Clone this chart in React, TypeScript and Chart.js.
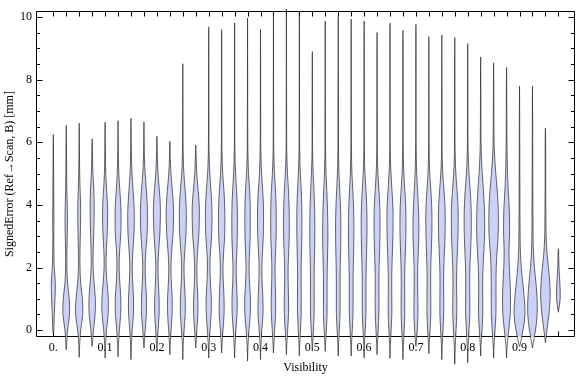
import React, { useEffect, useRef } from "react";
import { Chart, registerables } from "chart.js";

Chart.register(...registerables);

// Violin categories (Visibility)
const visibility = [
  0, 0.025, 0.05, 0.075, 0.1, 0.125, 0.15, 0.175, 0.2, 0.225,
  0.25, 0.275, 0.3, 0.325, 0.35, 0.375, 0.4, 0.425, 0.45, 0.475,
  0.5, 0.525, 0.55, 0.575, 0.6, 0.625, 0.65, 0.675, 0.7, 0.725,
  0.75, 0.775, 0.8, 0.825, 0.85, 0.875, 0.9, 0.925, 0.95, 0.975,
];

// Lowest and highest signed error of each violin [mm]
const violinMin = [
  -0.12, -0.63, -0.87, -0.52, -0.89, -0.85, -0.94, -0.57, -0.68, -0.78,
  -0.94, -0.57, -0.89, -0.73, -0.89, -0.99, -0.94, -0.73, -0.78, -0.83,
  -0.63, -0.68, -0.83, -0.83, -0.89, -0.78, -0.9, -0.94, -0.52, -0.75,
  -0.94, -1.09, -1.04, -0.83, -0.89, -0.89, -0.52, -0.57, -0.4, 0.57,
];
const violinMax = [
  6.25, 6.54, 6.61, 6.11, 6.64, 6.69, 6.77, 6.65, 6.19, 6.04,
  8.51, 5.91, 9.69, 9.6, 9.82, 9.97, 9.61, 10.17, 10.26, 10.17,
  8.9, 9.875, 10.02, 9.94, 9.875, 9.51, 9.81, 9.58, 9.77, 9.375,
  9.43, 9.35, 9.15, 8.73, 8.54, 8.39, 7.8, 7.8, 6.46, 2.6,
];

// Error levels at which the density half-width is sampled
const densityLevels = [-0.5, 0, 0.5, 1, 1.5, 2, 2.5, 3, 3.5, 4, 4.5, 5, 5.5, 6];

// Density half-width of each violin at each level (relative units)
const violinWidths = [
  [0, 0.5, 1, 1.7, 2, 1, 0.6, 0.5, 0.6, 0.5, 0.4, 0.3, 0.2, 0.15],
  [0.3, 1.3, 3.3, 3.0, 1.3, 0.7, 0.7, 1, 1.2, 1, 0.6, 0.4, 0.3, 0.2],
  [0.4, 1.5, 3.6, 3.2, 1.5, 0.8, 0.8, 1.1, 1.4, 1.4, 0.9, 0.5, 0.3, 0.2],
  [0.2, 1.3, 3, 3.2, 2, 1, 1, 1.5, 1.9, 2, 1.7, 0.8, 0.4, 0.2],
  [0.4, 1.4, 3, 3.2, 2, 1, 1.2, 2, 2.5, 2.4, 1.5, 0.7, 0.4, 0.2],
  [0.4, 1.3, 2.6, 2.8, 1.8, 1.1, 1.5, 2.6, 3, 2.7, 1.7, 0.8, 0.4, 0.2],
  [0.4, 1.2, 2.4, 2.5, 1.7, 1.2, 1.8, 2.9, 3.3, 3, 2, 1, 0.5, 0.25],
  [0.2, 1.2, 2.4, 2.5, 1.7, 1.2, 1.8, 3, 3.5, 3.3, 2.4, 1.2, 0.5, 0.25],
  [0.3, 1.2, 2.2, 2.2, 1.5, 1.1, 1.7, 2.8, 3.4, 3.4, 2.4, 1.1, 0.5, 0.2],
  [0.3, 1.2, 2.2, 2.3, 1.5, 1.1, 1.8, 3, 3.6, 3.5, 2.4, 1.1, 0.4, 0.2],
  [0.4, 1.3, 2.4, 2.4, 1.6, 1.2, 1.9, 3, 3.5, 3.3, 2.3, 1.1, 0.5, 0.25],
  [0.2, 1.1, 2.1, 2.1, 1.4, 1.1, 1.8, 3, 3.5, 3.5, 2.3, 1, 0.4, 0.2],
  [0.4, 1.3, 2.4, 2.6, 1.8, 1.2, 1.8, 2.9, 3.3, 3.1, 2.2, 1.1, 0.5, 0.25],
  [0.3, 1.3, 2.4, 2.4, 1.7, 1.3, 2, 3, 3.2, 3, 2.2, 1.1, 0.5, 0.25],
  [0.4, 1.3, 2.4, 2.6, 1.9, 1.6, 2.2, 2.7, 2.8, 2.6, 1.9, 1, 0.5, 0.25],
  [0.4, 1.4, 2.7, 2.9, 2, 1.5, 2, 2.6, 2.7, 2.6, 2, 1, 0.5, 0.25],
  [0.4, 1.3, 2.5, 2.4, 1.7, 1.4, 2, 2.8, 3, 2.9, 2.1, 1.1, 0.5, 0.25],
  [0.3, 1.2, 2.1, 2.2, 1.8, 1.6, 2.1, 2.7, 2.8, 2.6, 2, 1.1, 0.5, 0.25],
  [0.3, 1.2, 2.1, 2.1, 1.8, 1.7, 2.3, 2.8, 2.9, 2.6, 2, 1.1, 0.5, 0.25],
  [0.3, 1.1, 1.8, 1.9, 1.8, 1.8, 2.2, 2.5, 2.6, 2.4, 1.8, 1, 0.5, 0.25],
  [0.2, 1.1, 1.8, 1.9, 1.8, 1.9, 2.3, 2.5, 2.5, 2.2, 1.6, 0.9, 0.4, 0.25],
  [0.2, 1.1, 1.8, 1.8, 1.8, 2, 2.4, 2.6, 2.5, 2.1, 1.5, 0.8, 0.4, 0.25],
  [0.3, 1.1, 1.8, 1.9, 1.9, 2, 2.4, 2.6, 2.6, 2.2, 1.5, 0.8, 0.4, 0.25],
  [0.3, 1.1, 1.8, 1.9, 1.9, 2.1, 2.5, 2.7, 2.7, 2.3, 1.6, 0.8, 0.4, 0.25],
  [0.3, 1.1, 1.8, 1.9, 1.9, 2.1, 2.5, 2.8, 2.9, 2.6, 1.8, 0.9, 0.4, 0.25],
  [0.3, 1.1, 1.8, 1.9, 1.8, 2, 2.5, 2.9, 3, 2.7, 1.8, 0.9, 0.4, 0.25],
  [0.3, 1.1, 1.8, 1.8, 1.7, 1.9, 2.4, 2.9, 3.1, 2.8, 1.9, 1, 0.4, 0.25],
  [0.4, 1.2, 1.8, 1.8, 1.7, 1.9, 2.4, 2.9, 3, 2.7, 1.8, 0.9, 0.4, 0.25],
  [0.1, 1.3, 2, 1.9, 1.7, 1.8, 2.4, 2.9, 2.9, 2.4, 1.6, 0.8, 0.4, 0.25],
  [0.3, 1.2, 1.9, 1.9, 1.8, 1.9, 2.4, 2.9, 3.1, 2.8, 1.9, 0.9, 0.4, 0.25],
  [0.4, 1.2, 1.9, 1.9, 1.8, 2, 2.6, 3.2, 3.4, 3.1, 2.1, 1, 0.4, 0.25],
  [0.5, 1.3, 2, 2, 1.8, 2, 2.6, 3.2, 3.4, 3.2, 2.2, 1.1, 0.5, 0.25],
  [0.5, 1.3, 2.1, 2.1, 2, 2.2, 2.8, 3.4, 3.6, 3.3, 2.4, 1.3, 0.6, 0.3],
  [0.3, 1.3, 2.1, 2.1, 2, 2.4, 3.2, 3.9, 4, 3.6, 2.7, 1.6, 0.8, 0.4],
  [0.4, 1.4, 2.3, 2.4, 2.4, 2.6, 3.4, 4.5, 4.8, 4.5, 3.5, 2.2, 1.1, 0.5],
  [0.6, 2.2, 3.7, 4, 3.6, 2.8, 2.4, 2.9, 3, 2.5, 1.6, 1, 0.6, 0.4],
  [0.3, 3.5, 5.5, 4.8, 3.3, 1.8, 0.9, 0.6, 0.5, 0.4, 0.4, 0.3, 0.3, 0.25],
  [0.3, 3, 4.7, 4.6, 3.5, 2, 1, 0.6, 0.5, 0.4, 0.4, 0.3, 0.3, 0.25],
  [0, 1.5, 3.5, 4.7, 4.4, 3, 1.5, 0.7, 0.5, 0.4, 0.3, 0.3, 0.3, 0.25],
  [0, 0, 0, 1.8, 1.5, 0.6, 0.3, 0, 0, 0, 0, 0, 0, 0],
];

// Axis ticks and labels
const xLabelValues = [0, 0.1, 0.2, 0.3, 0.4, 0.5, 0.6, 0.7, 0.8, 0.9];
const xTickLabels = ["0.", "0.1", "0.2", "0.3", "0.4", "0.5", "0.6", "0.7", "0.8", "0.9"];
const yLabelValues = [0, 2, 4, 6, 8, 10];
const yTickLabels = ["0", "2", "4", "6", "8", "10"];
const yMinorTicks = [0.5, 1, 1.5, 2.5, 3, 3.5, 4.5, 5, 5.5, 6.5, 7, 7.5, 8.5, 9, 9.5];

const WIDTH_UNIT = 1 / 518; // one relative width unit in Visibility units
const FILL = "rgb(204, 210, 247)";
const EDGE = "rgba(40, 40, 40, 0.7)";
const FONT = "'Liberation Serif', 'Times New Roman', serif";

function violinPath(i: number) {
  const cx = visibility[i];
  const lo = violinMin[i];
  const hi = violinMax[i];
  const right: { x: number; y: number }[] = [];
  const left: { x: number; y: number }[] = [];
  densityLevels.forEach((lv, j) => {
    const w = violinWidths[i][j];
    if (lv > lo && lv < hi && w > 0) {
      right.push({ x: cx + w * WIDTH_UNIT, y: lv });
      left.push({ x: cx - w * WIDTH_UNIT, y: lv });
    }
  });
  return [
    { x: cx, y: lo },
    ...right,
    { x: cx, y: hi },
    ...left.reverse(),
    { x: cx, y: lo },
  ];
}

const framePlugin = {
  id: "frameTicks",
  beforeDatasetsDraw(chart: any) {
    const { ctx, chartArea, scales } = chart;
    const { left, right, top, bottom } = chartArea;
    ctx.save();
    ctx.strokeStyle = "#000";
    ctx.lineWidth = 1;
    const L = Math.round(left) + 0.5;
    const R = Math.round(right) - 0.5;
    const T = Math.round(top) + 0.5;
    const B = Math.round(bottom) - 0.5;
    ctx.beginPath();
    ctx.rect(L, T, R - L, B - T);
    ctx.stroke();
    ctx.beginPath();
    visibility.forEach((v) => {
      const px = Math.round(scales.x.getPixelForValue(v)) + 0.5;
      ctx.moveTo(px, T);
      ctx.lineTo(px, T + 5);
      ctx.moveTo(px, B);
      ctx.lineTo(px, B - 5);
    });
    yLabelValues.forEach((v) => {
      const py = Math.round(scales.y.getPixelForValue(v)) + 0.5;
      ctx.moveTo(L, py);
      ctx.lineTo(L + 6, py);
      ctx.moveTo(R, py);
      ctx.lineTo(R - 6, py);
    });
    yMinorTicks.forEach((v) => {
      const py = Math.round(scales.y.getPixelForValue(v)) + 0.5;
      ctx.moveTo(L, py);
      ctx.lineTo(L + 3.5, py);
      ctx.moveTo(R, py);
      ctx.lineTo(R - 3.5, py);
    });
    ctx.stroke();
    ctx.restore();
  },
};

export default function App() {
  const canvasRef = useRef<HTMLCanvasElement | null>(null);

  useEffect(() => {
    if (!canvasRef.current) return;
    const datasets = visibility.map((v, i) => ({
      label: String(v),
      data: violinPath(i),
      borderColor: EDGE,
      borderWidth: 1,
      backgroundColor: FILL,
      fill: "shape" as any,
      tension: 0.35,
      pointRadius: 0,
      pointHoverRadius: 0,
      pointHitRadius: 0,
      clip: false as any,
    }));

    const chart = new Chart(canvasRef.current, {
      type: "line",
      data: { datasets },
      options: {
        animation: false,
        responsive: false,
        events: [],
        layout: { padding: { top: 4, right: 1, left: 0, bottom: 0 } },
        plugins: {
          legend: { display: false },
          tooltip: { enabled: false },
        },
        scales: {
          x: {
            type: "linear",
            min: -0.0334,
            max: 1.0071,
            afterBuildTicks: (s: any) => {
              s.ticks = xLabelValues.map((value) => ({ value }));
            },
            afterFit: (s: any) => {
              s.height = 40;
            },
            grid: { display: false, drawTicks: false },
            border: { display: false },
            ticks: {
              autoSkip: false,
              maxRotation: 0,
              padding: 4,
              color: "#000",
              font: { family: FONT, size: 12 },
              callback: (_v: any, i: number) => xTickLabels[i],
            },
            title: {
              display: true,
              text: "Visibility",
              color: "#000",
              font: { family: FONT, size: 12 },
              padding: { top: 0, bottom: 1.5 },
            },
          },
          y: {
            type: "linear",
            min: -0.22,
            max: 10.19,
            afterBuildTicks: (s: any) => {
              s.ticks = yLabelValues.map((value) => ({ value }));
            },
            afterFit: (s: any) => {
              s.width = 36;
            },
            grid: { display: false, drawTicks: false },
            border: { display: false },
            ticks: {
              autoSkip: false,
              padding: 4,
              color: "#000",
              font: { family: FONT, size: 12 },
              callback: (_v: any, i: number) => yTickLabels[i],
            },
            title: {
              display: true,
              text: "SignedError (Ref\u2192Scan, B) [mm]",
              color: "#000",
              font: { family: FONT, size: 12 },
              padding: { top: 3, bottom: 0 },
            },
          },
        },
      },
      plugins: [framePlugin],
    });
    return () => chart.destroy();
  }, []);

  return (
    <div style={{ position: "absolute", left: 0, top: 0, width: 576, height: 377, background: "#fff" }}>
      <canvas ref={canvasRef} width={576} height={377} style={{ width: 576, height: 377, display: "block" }} />
    </div>
  );
}
